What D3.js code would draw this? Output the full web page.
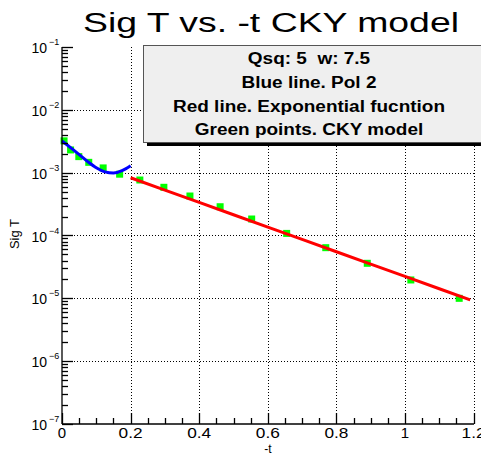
<!DOCTYPE html>
<html><head><meta charset="utf-8">
<script src="https://cdn.jsdelivr.net/npm/d3@7"></script>
<style>body{margin:0;background:#fff}svg{display:block}text{font-family:"Liberation Sans",Arial,sans-serif;white-space:pre}</style>
</head><body>
<svg id="c" width="481" height="455"></svg>
<script>
// CKY model points (green)
const ckyT = [0.006,0.025,0.049,0.078,0.12,0.168,0.227,0.297,0.373,0.461,0.553,0.655,0.769,0.890,1.017,1.158];
const ckySig = [3.21e-3,2.30e-3,1.80e-3,1.46e-3,1.19e-3,9.46e-4,7.64e-4,5.85e-4,4.25e-4,2.87e-4,1.83e-4,1.08e-4,6.40e-5,3.61e-5,1.96e-5,1.00e-5];
// Blue line: Pol 2 fit
const polT = [0,0.025,0.05,0.075,0.1,0.125,0.15,0.175,0.2];
const polSig = [3.19e-3,2.50e-3,1.94e-3,1.50e-3,1.20e-3,1.03e-3,0.985e-3,1.075e-3,1.29e-3];
// Red line: exponential fit
const expT = [0.2,0.3,0.4,0.5,0.6,0.7,0.8,0.9,1.0,1.1,1.19];
const expSig = [8.30e-4,5.28e-4,3.36e-4,2.14e-4,1.36e-4,8.67e-5,5.52e-5,3.51e-5,2.24e-5,1.42e-5,9.46e-6];
const xTicks = [0,0.2,0.4,0.6,0.8,1,1.2];
const xTickLabels = ["0","0.2","0.4","0.6","0.8","1","1.2"];
const yExps = [-7,-6,-5,-4,-3,-2,-1];
const legendLines = ["Qsq: 5  w: 7.5","Blue line. Pol 2","Red line. Exponential fucntion","Green points. CKY model"];

const svg = d3.select("#c");
const x = d3.scaleLinear().domain([0,1.2]).range([62,473.6]);
const y = d3.scaleLog().domain([1e-7,1e-1]).range([424,47]);

// grid
const grid = svg.append("g").attr("stroke","#000").attr("stroke-width",1).attr("stroke-dasharray","1,2");
xTicks.filter(v=>v>0).forEach(v=>{
  grid.append("line").attr("x1",Math.round(x(v))+0.5).attr("x2",Math.round(x(v))+0.5).attr("y1",47).attr("y2",424);
});
yExps.filter(e=>e>-7 && e<-1).forEach(e=>{
  const yy=Math.round(y(Math.pow(10,e)))+0.5;
  grid.append("line").attr("x1",62).attr("x2",474).attr("y1",yy).attr("y2",yy);
});

// legend box
const bx=143, by=45, bw=345, bh=97;
svg.append("rect").attr("x",bx+4).attr("y",by+4).attr("width",bw).attr("height",bh).attr("fill","#000");
svg.append("rect").attr("x",bx+0.5).attr("y",by+0.5).attr("width",bw).attr("height",bh).attr("fill","#efefef").attr("stroke","#555").attr("stroke-width",1);
const lt = legendLines.map((t,i)=>svg.append("text").attr("x",309).attr("y",64+i*23.8).attr("text-anchor","middle")
    .attr("font-size",16).attr("font-weight","bold").attr("fill","#000").text(t));
const nat = lt.map(t=>t.node().getComputedTextLength());
const f = 272/nat[2];
lt.forEach((t,i)=>t.attr("textLength",nat[i]*f).attr("lengthAdjust","spacingAndGlyphs"));

// points
svg.append("g").selectAll("rect").data(ckyT.map((t,i)=>[t,ckySig[i]])).join("rect")
  .attr("x",d=>x(d[0])-3.5).attr("y",d=>y(d[1])-3.5).attr("width",7).attr("height",7).attr("fill","#00ff00");

// lines
const line = d3.line().x(d=>x(d[0])).y(d=>y(d[1])).curve(d3.curveMonotoneX);
svg.append("path").datum(polT.map((t,i)=>[t,polSig[i]])).attr("d",line).attr("fill","none").attr("stroke","#0000ff").attr("stroke-width",3);
svg.append("path").datum(expT.map((t,i)=>[t,expSig[i]])).attr("d",d3.line().x(d=>x(d[0])).y(d=>y(d[1]))).attr("fill","none").attr("stroke","#ff0000").attr("stroke-width",3);

// axes
const ax = svg.append("g").attr("stroke","#000").attr("stroke-width",1.3);
ax.append("line").attr("x1",62).attr("x2",474).attr("y1",424).attr("y2",424);
ax.append("line").attr("x1",62).attr("x2",62).attr("y1",47).attr("y2",424);
// x ticks
d3.range(0,1.2001,0.05).forEach((v,i)=>{
  const major = i%4===0;
  const xx = Math.round(x(v))+0.5;
  ax.append("line").attr("x1",xx).attr("x2",xx).attr("y1",424).attr("y2",424-(major?11:6));
});
// y ticks
yExps.forEach(e=>{
  const base=Math.pow(10,e);
  const yy=Math.round(y(base))+0.5;
  ax.append("line").attr("x1",62).attr("x2",73).attr("y1",yy).attr("y2",yy);
  if(e<-1) for(let k=2;k<=9;k++){
    const ym=Math.round(y(base*k))+0.5;
    ax.append("line").attr("x1",62).attr("x2",68).attr("y1",ym).attr("y2",ym);
  }
});
// x tick labels
xTicks.forEach((v,i)=>{
  const t = svg.append("text").attr("x",x(v)).attr("y",438).attr("text-anchor","middle").attr("font-size",15).text(xTickLabels[i]);
  if(xTickLabels[i].length>1) t.attr("textLength",24).attr("lengthAdjust","spacingAndGlyphs");
});
// y tick labels
yExps.forEach(e=>{
  svg.append("text").attr("x",47).attr("y",y(Math.pow(10,e))+6).attr("text-anchor","end").attr("font-size",14).text("10");
  svg.append("text").attr("x",49).attr("y",y(Math.pow(10,e))-2).attr("font-size",9).text("\u2212"+(-e));
});
// axis titles
svg.append("text").attr("x",268).attr("y",453).attr("text-anchor","middle").attr("font-size",12).text("-t");
svg.append("text").attr("transform","translate(19,234) rotate(-90)").attr("text-anchor","middle").attr("font-size",13).text("Sig T");
// title
svg.append("text").attr("x",271).attr("y",32).attr("text-anchor","middle").attr("font-size",27)
  .attr("textLength",376).attr("lengthAdjust","spacingAndGlyphs").text("Sig T vs. -t CKY model");
</script>
</body></html>
